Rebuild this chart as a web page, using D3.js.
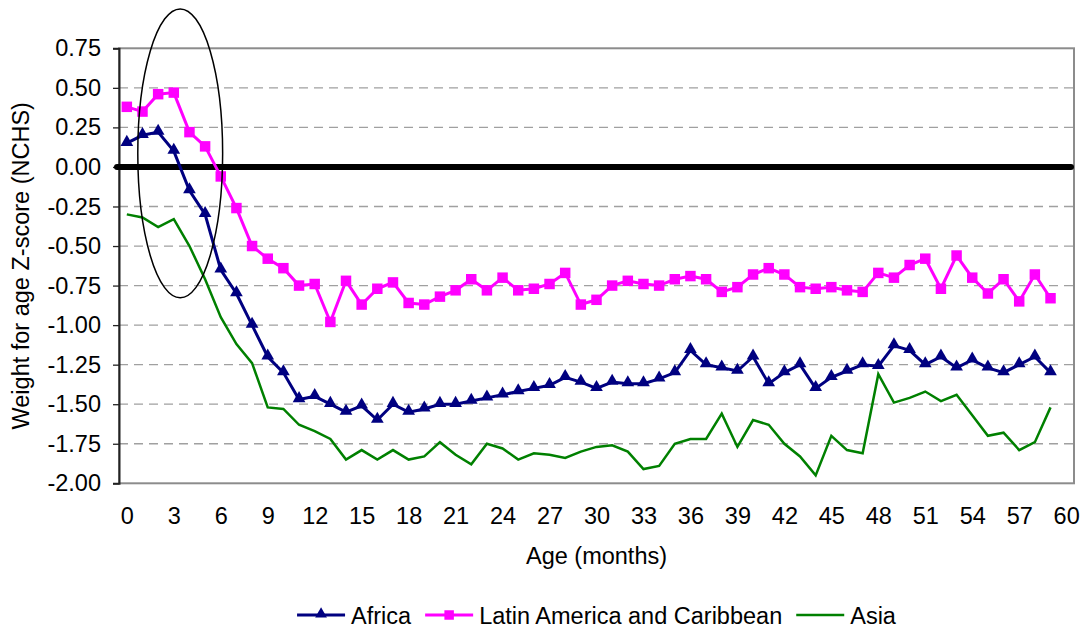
<html>
<head>
<meta charset="utf-8">
<title>Weight for age Z-score</title>
<script src="https://cdn.jsdelivr.net/npm/d3@7"></script>
<style>
body { margin: 0; background: #fff; }
svg { background: #fff; font-family: "Liberation Sans", Arial, sans-serif; }
.grid line { stroke: #a0a0a0; stroke-width: 1.3; stroke-dasharray: 9,6; }
</style>
</head>
<body>
<script>
// data
var ages = [0,1,2,3,4,5,6,7,8,9,10,11,12,13,14,15,16,17,18,19,20,21,22,23,24,25,26,27,28,29,
  30,31,32,33,34,35,36,37,38,39,40,41,42,43,44,45,46,47,48,49,50,51,52,53,54,55,56,57,58,59];
var africa = [0.15,0.20,0.22,0.10,-0.15,-0.30,-0.65,-0.80,-1.00,-1.20,
  -1.30,-1.47,-1.45,-1.50,-1.55,-1.51,-1.60,-1.50,-1.55,-1.53,
  -1.50,-1.50,-1.48,-1.46,-1.44,-1.42,-1.40,-1.38,-1.33,-1.36,
  -1.40,-1.36,-1.37,-1.37,-1.34,-1.30,-1.16,-1.25,-1.27,-1.29,
  -1.20,-1.37,-1.30,-1.25,-1.40,-1.33,-1.29,-1.25,-1.26,-1.13,
  -1.16,-1.25,-1.20,-1.27,-1.22,-1.27,-1.30,-1.25,-1.20,-1.30];
var latin = [0.38,0.35,0.46,0.47,0.22,0.13,-0.06,-0.26,-0.50,-0.58,
  -0.64,-0.75,-0.74,-0.98,-0.72,-0.87,-0.77,-0.73,-0.86,-0.87,
  -0.82,-0.78,-0.71,-0.78,-0.70,-0.78,-0.77,-0.74,-0.67,-0.87,
  -0.84,-0.75,-0.72,-0.74,-0.75,-0.71,-0.69,-0.71,-0.79,-0.76,
  -0.68,-0.64,-0.68,-0.76,-0.77,-0.76,-0.78,-0.79,-0.67,-0.70,
  -0.62,-0.58,-0.77,-0.56,-0.70,-0.80,-0.71,-0.85,-0.68,-0.83];
var asia = [-0.30,-0.32,-0.38,-0.33,-0.50,-0.71,-0.95,-1.12,-1.24,-1.52,
  -1.53,-1.63,-1.67,-1.72,-1.85,-1.79,-1.85,-1.79,-1.85,-1.83,
  -1.74,-1.82,-1.88,-1.75,-1.78,-1.85,-1.81,-1.82,-1.84,-1.80,
  -1.77,-1.76,-1.80,-1.91,-1.89,-1.75,-1.72,-1.72,-1.56,-1.77,
  -1.60,-1.63,-1.75,-1.83,-1.95,-1.70,-1.79,-1.81,-1.31,-1.49,
  -1.46,-1.42,-1.48,-1.44,-1.57,-1.70,-1.68,-1.79,-1.74,-1.52];
var xTicks = [0,3,6,9,12,15,18,21,24,27,30,33,36,39,42,45,48,51,54,57,60];
var yTicks = [-2.00,-1.75,-1.50,-1.25,-1.00,-0.75,-0.50,-0.25,0.00,0.25,0.50,0.75];
var seriesNames = ["Africa", "Latin America and Caribbean", "Asia"];

var width = 1085, height = 632;
var plotLeft = 119, plotRight = 1074, plotTop = 48.3, plotBottom = 483.3;
var fontSize = 23.5;

var svg = d3.select('body').append('svg')
  .attr('width', width)
  .attr('height', height);

// category axis 0..60, points sit in the middle of each slot
var x = d3.scaleLinear().domain([-0.5, 60.5]).range([plotLeft, plotRight]);
var y = d3.scaleLinear().domain([-2, 0.75]).range([plotBottom, plotTop]);

// dashed gridlines
svg.append('g').attr('class', 'grid')
  .selectAll('line')
  .data(yTicks.filter(function(d){ return d > -2 && d < 0.75 && d !== 0; }))
  .enter().append('line')
  .attr('x1', plotLeft).attr('x2', plotRight)
  .attr('y1', function(d){ return y(d); })
  .attr('y2', function(d){ return y(d); });

// frame
svg.append('rect')
  .attr('x', plotLeft).attr('y', plotTop)
  .attr('width', plotRight - plotLeft).attr('height', plotBottom - plotTop)
  .attr('fill', 'none').attr('stroke', '#8c8c8c').attr('stroke-width', 2);

// y axis
var yAxis = svg.append('g')
  .attr('transform', 'translate(' + plotLeft + ',0)')
  .call(d3.axisLeft(y).tickValues(yTicks).tickSize(6).tickPadding(12)
    .tickFormat(function(d){ return d.toFixed(2); }));
yAxis.select('.domain').attr('stroke', '#222').attr('stroke-width', 2);
yAxis.selectAll('.tick line').attr('stroke', '#222').attr('stroke-width', 1.3);
yAxis.selectAll('text').attr('font-size', fontSize).attr('fill', '#000')
  .attr('font-family', '"Liberation Sans", Arial, sans-serif');

// x axis labels only
var xAxis = svg.append('g')
  .attr('transform', 'translate(0,' + plotBottom + ')')
  .call(d3.axisBottom(x).tickValues(xTicks).tickSize(0).tickPadding(24));
xAxis.select('.domain').remove();
xAxis.selectAll('text').attr('font-size', fontSize).attr('fill', '#000')
  .attr('font-family', '"Liberation Sans", Arial, sans-serif');

// bold zero line
svg.append('line')
  .attr('x1', plotLeft - 2).attr('x2', plotRight - 3)
  .attr('y1', y(0)).attr('y2', y(0))
  .attr('stroke', '#000').attr('stroke-width', 6).attr('stroke-linecap', 'round');

// axis titles
svg.append('text')
  .attr('x', (plotLeft + plotRight) / 2).attr('y', 564)
  .attr('text-anchor', 'middle').attr('font-size', fontSize)
  .text('Age (months)');
svg.append('text')
  .attr('transform', 'translate(29,' + (plotTop + plotBottom) / 2 + ') rotate(-90)')
  .attr('text-anchor', 'middle').attr('font-size', fontSize)
  .text('Weight for age Z-score (NCHS)');

var line = d3.line()
  .x(function(d, i){ return x(ages[i]); })
  .y(function(d){ return y(d); });

// Asia, plain green line
svg.append('path').datum(asia)
  .attr('d', line).attr('fill', 'none')
  .attr('stroke', '#008000').attr('stroke-width', 2.5);

// Latin America, magenta with squares
svg.append('path').datum(latin)
  .attr('d', line).attr('fill', 'none')
  .attr('stroke', '#ff00ff').attr('stroke-width', 3);
svg.append('g').selectAll('path')
  .data(latin).enter().append('path')
  .attr('transform', function(d, i){ return 'translate(' + x(ages[i]) + ',' + y(d) + ')'; })
  .attr('d', d3.symbol().type(d3.symbolSquare).size(110))
  .attr('fill', '#ff00ff');

// Africa, navy with triangles
svg.append('path').datum(africa)
  .attr('d', line).attr('fill', 'none')
  .attr('stroke', '#000080').attr('stroke-width', 3);
svg.append('g').selectAll('path')
  .data(africa).enter().append('path')
  .attr('transform', function(d, i){ return 'translate(' + x(ages[i]) + ',' + (y(d) - 1) + ')'; })
  .attr('d', d3.symbol().type(d3.symbolTriangle).size(70))
  .attr('fill', '#000080');

// the ellipse drawn around the first months
var ringCenter = [3.41, 0.086], ringRadius = [2.71, 0.913];
svg.append('ellipse')
  .attr('cx', x(ringCenter[0])).attr('cy', y(ringCenter[1]))
  .attr('rx', x(ringRadius[0]) - x(0)).attr('ry', y(0) - y(ringRadius[1]))
  .attr('fill', 'none').attr('stroke', '#000').attr('stroke-width', 1.5);

// legend
var legendColors = ['#000080', '#ff00ff', '#008000'];
var legendMarks = [d3.symbolTriangle, d3.symbolSquare, null];
var legend = svg.append('g');
var lx = 0;
seriesNames.forEach(function(name, i){
  var g = legend.append('g').attr('transform', 'translate(' + lx + ',0)');
  g.append('line').attr('x1', 0).attr('x2', 48).attr('y1', 0).attr('y2', 0)
    .attr('stroke', legendColors[i]).attr('stroke-width', i === 2 ? 2.5 : 3);
  if (legendMarks[i]) {
    g.append('path').attr('transform', 'translate(24,' + (i === 0 ? -1 : 0) + ')')
      .attr('d', d3.symbol().type(legendMarks[i]).size(i === 0 ? 60 : 90))
      .attr('fill', legendColors[i]);
  }
  var t = g.append('text').attr('x', 54).attr('y', 9)
    .attr('font-size', fontSize).text(name);
  lx += 54 + t.node().getComputedTextLength() + 14;
});
var legendWidth = lx - 14;
legend.attr('transform', 'translate(' + ((plotLeft + plotRight) / 2 - legendWidth / 2) + ',615)');
</script>
</body>
</html>
